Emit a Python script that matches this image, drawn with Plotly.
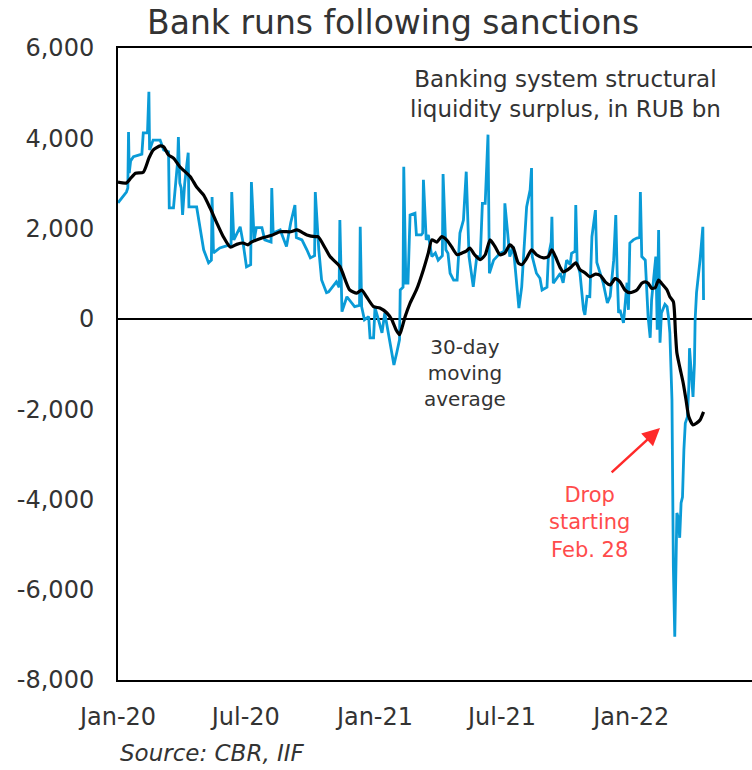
import plotly.graph_objects as go

# Daily structural liquidity surplus, RUB bn
surplus_dates = [
    "2020-01-01", "2020-01-07", "2020-01-13", "2020-01-15", "2020-01-16", "2020-01-17", "2020-01-19",
    "2020-01-23", "2020-02-04", "2020-02-06", "2020-02-12", "2020-02-14", "2020-02-15", "2020-02-20",
    "2020-03-01", "2020-03-06", "2020-03-13", "2020-03-14", "2020-03-20", "2020-03-26", "2020-03-27",
    "2020-03-29", "2020-03-31", "2020-04-02", "2020-04-05", "2020-04-10", "2020-04-11", "2020-04-22",
    "2020-04-27", "2020-05-02", "2020-05-09", "2020-05-13", "2020-05-14", "2020-05-16", "2020-05-25",
    "2020-06-06", "2020-06-10", "2020-06-11", "2020-06-14", "2020-06-23", "2020-06-27", "2020-07-02",
    "2020-07-08", "2020-07-09", "2020-07-13", "2020-07-16", "2020-07-24", "2020-07-28", "2020-08-06",
    "2020-08-07", "2020-08-09", "2020-08-19", "2020-08-28", "2020-09-03", "2020-09-09", "2020-09-11",
    "2020-09-19", "2020-09-26", "2020-10-01", "2020-10-07", "2020-10-08", "2020-10-13", "2020-10-17",
    "2020-10-24", "2020-10-27", "2020-11-07", "2020-11-11", "2020-11-12", "2020-11-15", "2020-11-22",
    "2020-11-26", "2020-12-03", "2020-12-10", "2020-12-11", "2020-12-13", "2020-12-17", "2020-12-23",
    "2020-12-25", "2020-12-30", "2021-01-01", "2021-01-06", "2021-01-11", "2021-01-15", "2021-01-20",
    "2021-01-25", "2021-01-28", "2021-02-01", "2021-02-05", "2021-02-06", "2021-02-10", "2021-02-11",
    "2021-02-14", "2021-02-17", "2021-02-20", "2021-02-27", "2021-03-01", "2021-03-08", "2021-03-10",
    "2021-03-11", "2021-03-15", "2021-03-18", "2021-03-23", "2021-03-28", "2021-04-01", "2021-04-07",
    "2021-04-08", "2021-04-12", "2021-04-15", "2021-04-18", "2021-04-23", "2021-04-28", "2021-05-02",
    "2021-05-07", "2021-05-11", "2021-05-15", "2021-05-21", "2021-05-26", "2021-05-31", "2021-06-03",
    "2021-06-07", "2021-06-11", "2021-06-13", "2021-06-19", "2021-06-28", "2021-07-04", "2021-07-05",
    "2021-07-09", "2021-07-12", "2021-07-17", "2021-07-22", "2021-07-25", "2021-07-29", "2021-08-01",
    "2021-08-05", "2021-08-10", "2021-08-12", "2021-08-13", "2021-08-19", "2021-08-24", "2021-08-27",
    "2021-09-03", "2021-09-05", "2021-09-09", "2021-09-10", "2021-09-12", "2021-09-17", "2021-09-22",
    "2021-09-26", "2021-10-01", "2021-10-06", "2021-10-08", "2021-10-13", "2021-10-14", "2021-10-16",
    "2021-10-20", "2021-10-25", "2021-10-27", "2021-10-30", "2021-11-03", "2021-11-06", "2021-11-11",
    "2021-11-13", "2021-11-18", "2021-11-22", "2021-11-28", "2021-12-02", "2021-12-07", "2021-12-10",
    "2021-12-12", "2021-12-14", "2021-12-16", "2021-12-21", "2021-12-26", "2021-12-28", "2021-12-30",
    "2022-01-04", "2022-01-09", "2022-01-13", "2022-01-14", "2022-01-16", "2022-01-21", "2022-01-23",
    "2022-01-25", "2022-01-28", "2022-01-30", "2022-02-02", "2022-02-05", "2022-02-06", "2022-02-07",
    "2022-02-08", "2022-02-09", "2022-02-11", "2022-02-13", "2022-02-18", "2022-02-21", "2022-02-23",
    "2022-02-25", "2022-02-28", "2022-03-02", "2022-03-04", "2022-03-06", "2022-03-07", "2022-03-09",
    "2022-03-11", "2022-03-13", "2022-03-15", "2022-03-17", "2022-03-19", "2022-03-22", "2022-03-24",
    "2022-03-25", "2022-03-27", "2022-03-30", "2022-04-01", "2022-04-02", "2022-04-04", "2022-04-09",
    "2022-04-13", "2022-04-14",
]
surplus_values = [
    2570, 2700, 2810, 2900, 4140, 3230, 3500,
    3590, 3650, 4120, 4120, 5030, 3740, 3960,
    3960, 3740, 3700, 2460, 2460, 3500, 4030,
    3010, 2900, 2300, 3000, 3680, 2480, 2480,
    2040, 1530, 1240, 1300, 2700, 1460, 1570,
    1620, 1650, 2810, 1750, 2040, 1700, 1150,
    1200, 3030, 1750, 2020, 2020, 1750, 1700,
    2900, 1900, 1970, 1600, 2130, 2520, 1800,
    1750, 1530, 1350, 1400, 2810, 1530, 860,
    580, 600, 820, 700, 2190, 160, 490,
    400, 270, 300, 2040, 270, -20, 50,
    -420, -420, 250, -20, -310, 130, -310,
    -750, -1020, -750, -460, 640, 700, 3370,
    790, 790, 2300, 2340, 1860, 1860, 1900,
    3080, 1750, 1860, 1380, 1460, 1300, 1400,
    3210, 1530, 1450, 1010, 860, 860, 1900,
    2190, 3260, 1380, 710, 1380, 1380, 2560,
    2560, 4080, 1010, 1300, 1450, 1500, 2560,
    1900, 1380, 1600, 710, 240, 710, 1380,
    2480, 2860, 3340, 1380, 1010, 900, 640,
    700, 1380, 1700, 2260, 790, 900, 1010,
    800, 1300, 1200, 1450, 1500, 2520, 1250,
    1010, 200, 90, 500, 490, 1820, 2410,
    1250, 1010, 800, 350, 500, 1300, 2300,
    1010, 130, 200, -90, 800, 200, 1680,
    1750, 1790, 1800, 2810, 1380, 1300, 800,
    50, -420, 420, 900, 1380, 600, -240,
    1000, 1970, -530, 130, 320, 270, 50,
    -310, -1790, -5490, -7040, -5490, -4300, -4400,
    -4850, -4080, -3950, -2900, -2310, -2170, -1500,
    -650, -1060, -1730, -1000, -20, 580, 1300,
    2040, 420,
]

# 30-day moving average, RUB bn
ma_dates = [
    "2020-01-01", "2020-01-13", "2020-01-19", "2020-01-26", "2020-02-06", "2020-02-14", "2020-02-20",
    "2020-03-01", "2020-03-06", "2020-03-13", "2020-03-20", "2020-03-29", "2020-04-13", "2020-04-22",
    "2020-05-02", "2020-05-11", "2020-05-20", "2020-05-30", "2020-06-09", "2020-06-18", "2020-06-27",
    "2020-07-04", "2020-07-09", "2020-07-24", "2020-08-07", "2020-08-19", "2020-09-03", "2020-09-12",
    "2020-09-26", "2020-10-08", "2020-10-12", "2020-10-22", "2020-10-29", "2020-11-12", "2020-11-26",
    "2020-12-06", "2020-12-13", "2020-12-20", "2020-12-30", "2021-01-08", "2021-01-18", "2021-01-25",
    "2021-01-31", "2021-02-05", "2021-02-09", "2021-02-13", "2021-02-20", "2021-03-01", "2021-03-11",
    "2021-03-18", "2021-03-23", "2021-03-30", "2021-04-06", "2021-04-13", "2021-04-20", "2021-04-28",
    "2021-05-05", "2021-05-11", "2021-05-16", "2021-05-23", "2021-05-31", "2021-06-07", "2021-06-14",
    "2021-06-21", "2021-06-28", "2021-07-05", "2021-07-12", "2021-07-17", "2021-07-24", "2021-07-29",
    "2021-08-05", "2021-08-12", "2021-08-19", "2021-08-29", "2021-09-05", "2021-09-10", "2021-09-15",
    "2021-09-22", "2021-09-26", "2021-10-06", "2021-10-14", "2021-10-20", "2021-10-27", "2021-11-03",
    "2021-11-11", "2021-11-18", "2021-11-25", "2021-12-02", "2021-12-09", "2021-12-16", "2021-12-23",
    "2021-12-30", "2022-01-09", "2022-01-16", "2022-01-21", "2022-01-25", "2022-01-30", "2022-02-04",
    "2022-02-09", "2022-02-13", "2022-02-21", "2022-02-25", "2022-03-02", "2022-03-05", "2022-03-07",
    "2022-03-11", "2022-03-16", "2022-03-20", "2022-03-24", "2022-03-30", "2022-04-04", "2022-04-09",
    "2022-04-14",
]
ma_values = [
    3030, 3010, 3115, 3226, 3250, 3560, 3740,
    3830, 3810, 3630, 3560, 3370, 3150, 2920,
    2740, 2460, 2150, 1820, 1590, 1650, 1680,
    1640, 1700, 1790, 1850, 1930, 1930, 1970,
    1860, 1820, 1820, 1570, 1380, 1160, 640,
    570, 640, 490, 270, 240, 130, -20,
    -240, -350, -170, 50, 350, 640, 1090,
    1460, 1750, 1700, 1820, 1750, 1600, 1420,
    1460, 1500, 1570, 1420, 1310, 1420, 1750,
    1600, 1420, 1460, 1640, 1570, 1240, 1200,
    1340, 1530, 1420, 1350, 1380, 1530, 1380,
    1130, 1040, 1130, 1240, 1090, 1020, 930,
    990, 960, 820, 750, 890, 820, 640,
    580, 640, 790, 820, 790, 680, 690,
    860, 790, 640, 490, 380, -310, -750,
    -1060, -1420, -1790, -2170, -2350, -2310, -2240,
    -2060,
]

tick_dates = ["2020-01-01", "2020-07-01", "2021-01-01", "2021-07-01", "2022-01-01"]
tick_labels = ["Jan-20", "Jul-20", "Jan-21", "Jul-21", "Jan-22"]
y_ticks = [6000, 4000, 2000, 0, -2000, -4000, -6000, -8000]
y_tick_labels = ["6,000", "4,000", "2,000", "0", "-2,000", "-4,000", "-6,000", "-8,000"]

FONT = "DejaVu Sans"
TEXT = "#333333"

fig = go.Figure()
fig.add_trace(go.Scatter(
    x=surplus_dates, y=surplus_values, mode="lines",
    line=dict(color="#0a9bd7", width=2.8), name="Surplus",
))
fig.add_trace(go.Scatter(
    x=ma_dates, y=ma_values, mode="lines",
    line=dict(color="#000000", width=3.2, shape="spline", smoothing=0.6), name="30-day MA",
))

fig.update_layout(
    width=752, height=770,
    margin=dict(l=118, r=0, t=48, b=90),
    paper_bgcolor="white", plot_bgcolor="white",
    showlegend=False,
    font=dict(family=FONT, color=TEXT, size=20),
    title=dict(
        text="Bank runs following sanctions",
        x=0.434, xref="paper", xanchor="center",
        y=1 - 22 / 770, yref="container", yanchor="middle",
        font=dict(family=FONT, size=33, color=TEXT),
    ),
)

fig.update_xaxes(
    type="date", range=["2020-01-01", "2022-06-22"],
    tickvals=tick_dates, ticktext=tick_labels,
    showgrid=False, zeroline=False,
    showline=True, linecolor="black", linewidth=2, mirror=True,
    ticks="", ticklabelstandoff=14,
    tickfont=dict(family=FONT, size=24, color=TEXT),
)
fig.update_yaxes(
    range=[-8000, 6000], tickvals=y_ticks, ticktext=y_tick_labels,
    showgrid=False,
    zeroline=True, zerolinecolor="black", zerolinewidth=1.5,
    showline=True, linecolor="black", linewidth=2,
    ticks="", ticklabelstandoff=17,
    tickfont=dict(family=FONT, size=24, color=TEXT),
)

fig.add_annotation(
    x="2021-09-30", y=4980, xref="x", yref="y",
    text="Banking system structural<br>liquidity surplus, in RUB bn",
    showarrow=False, align="center",
    font=dict(family=FONT, size=23, color=TEXT),
)
fig.add_annotation(
    x="2021-05-09", y=-1200, xref="x", yref="y",
    text="30-day<br>moving<br>average",
    showarrow=False, align="center",
    font=dict(family=FONT, size=20, color=TEXT),
)
fig.add_annotation(
    x="2021-11-03", y=-4500, xref="x", yref="y",
    text="Drop<br>starting<br>Feb. 28",
    showarrow=False, align="center",
    font=dict(family=FONT, size=21, color="#ff4b4b"),
)
fig.add_annotation(
    x="2022-02-11", y=-2420, xref="x", yref="y",
    ax="2021-12-02", ay=-3430, axref="x", ayref="y",
    text="", showarrow=True, arrowhead=2, arrowsize=1.4,
    arrowwidth=2.5, arrowcolor="#ff2a2a",
)
fig.add_annotation(
    x=0, y=-0.1155, xref="paper", yref="paper",
    xanchor="left", yanchor="middle",
    text="<i>Source: CBR, IIF</i>", showarrow=False,
    font=dict(family=FONT, size=23, color=TEXT),
)

fig.write_html("out.html")
